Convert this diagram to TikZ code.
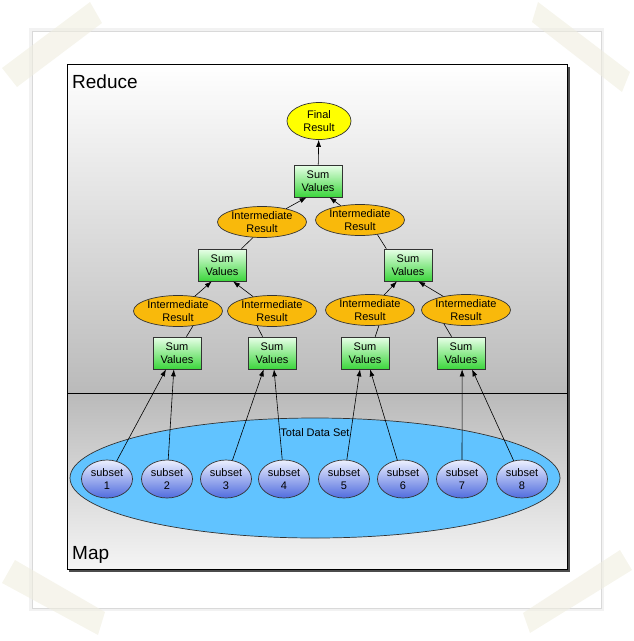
\documentclass[tikz,border=0pt]{standalone}
\usepackage{fontspec}
\setmainfont{Liberation Sans}
\usepackage{tikz}
\usetikzlibrary{shapes.geometric,arrows.meta,positioning}
\usepackage{xcolor}

\definecolor{tapecol}{RGB}{240,238,224}
\definecolor{orangefill}{RGB}{249,185,11}
\definecolor{finalfill}{RGB}{255,255,0}
\definecolor{greenlight}{RGB}{232,255,232}
\definecolor{greendark}{RGB}{60,214,60}
\definecolor{bluelight}{RGB}{236,240,255}
\definecolor{bluedark}{RGB}{80,108,222}
\definecolor{setblue}{RGB}{97,195,255}
\definecolor{panelgray}{RGB}{186,186,186}

\begin{document}
\begin{tikzpicture}[x=1pt, y=-1pt,
    txt/.style={font=\fontsize{11}{13}\selectfont, align=center, inner sep=0pt},
    sumbox/.style={txt, draw=black!80, line width=0.7pt, rectangle, top color=greenlight, bottom color=greendark, minimum width=48pt, minimum height=32pt},
    interm/.style={txt, draw=black!80, line width=0.7pt, ellipse, fill=orangefill, minimum width=89pt, minimum height=31pt},
    result/.style={txt, draw=black!80, line width=0.7pt, ellipse, fill=finalfill, minimum width=64pt, minimum height=37pt},
    subset/.style={txt, draw=black!80, line width=0.7pt, ellipse, top color=bluelight, bottom color=bluedark, minimum width=51pt, minimum height=38pt},
    flow/.style={-{Latex[length=7pt,width=5pt]}, line width=0.6pt},
    link/.style={line width=0.6pt},
    tape/.style={fill=tapecol, fill opacity=0.6},
    phase/.style={font=\fontsize{19}{22}\selectfont, anchor=base west, inner sep=0pt}]

    \useasboundingbox (0,0) rectangle (633,641);

    % paper and frame
    \fill[gray!10] (29,28) rectangle (604,611);
    \draw[gray!30, line width=1pt, fill=white] (32,31) rectangle (601,608);
    \fill[black!70] (69,67) rectangle (570,572);
    \shade[top color=white, bottom color=panelgray] (67,64) rectangle (567,393);
    \shade[top color=panelgray, bottom color=white!96!black] (67,393) rectangle (567,569);
    \draw[line width=0.8pt] (67,64) rectangle (567,569);
    \draw[line width=0.6pt] (67,393) -- (567,393);

    \node[phase] (reduce) at (72,88) {Reduce};
    \node[phase] (map) at (72,559) {Map};

    % data set
    \node[draw=black!80, line width=0.7pt, ellipse, fill=setblue, minimum width=490pt, minimum height=120pt] (total) at (315,478) {};
    \node[txt, below=11pt of total.north] (totallabel) {Total Data Set};

    \node[subset] (sub1) at (107,479) {subset\\1};
    \node[subset] (sub2) at (167,479) {subset\\2};
    \node[subset] (sub3) at (226,479) {subset\\3};
    \node[subset] (sub4) at (284,479) {subset\\4};
    \node[subset] (sub5) at (344,479) {subset\\5};
    \node[subset] (sub6) at (403,479) {subset\\6};
    \node[subset] (sub7) at (462,479) {subset\\7};
    \node[subset] (sub8) at (522,479) {subset\\8};

    % reduce tree
    \node[sumbox] (sum1) at (177,353) {Sum\\Values};
    \node[sumbox] (sum2) at (272,353) {Sum\\Values};
    \node[sumbox] (sum3) at (365,353) {Sum\\Values};
    \node[sumbox] (sum4) at (461,353) {Sum\\Values};

    \node[interm] (int1) at (178,311) {Intermediate\\Result};
    \node[interm] (int2) at (272,311) {Intermediate\\Result};
    \node[interm] (int3) at (370,310) {Intermediate\\Result};
    \node[interm] (int4) at (466,310) {Intermediate\\Result};

    \node[sumbox] (sumL) at (222,265) {Sum\\Values};
    \node[sumbox] (sumR) at (408,265) {Sum\\Values};

    \node[interm] (midL) at (262,222) {Intermediate\\Result};
    \node[interm] (midR) at (360,220) {Intermediate\\Result};

    \node[sumbox] (sum0) at (318,181) {Sum\\Values};
    \node[result] (final) at (319,121) {Final\\Result};

    \draw[flow] (sub1) -- (sum1.236);
    \draw[flow] (sub2) -- (sum1.259);
    \draw[flow] (sub3) -- (sum2.243);
    \draw[flow] (sub4) -- (sum2.277);
    \draw[flow] (sub5) -- (sum3.253);
    \draw[flow] (sub6) -- (sum3.287);
    \draw[flow] (sub7) -- (sum4.274);
    \draw[flow] (sub8) -- (sum4.304);

    \draw[link] (sum1.60) -- (int1.315);
    \draw[link] (sum2.120) -- (int2.225);
    \draw[link] (sum3.58) -- (int3.300);
    \draw[link] (sum4.120) -- (int4.212);

    \draw[flow] (int1) -- (sumL.238);
    \draw[flow] (int2) -- (sumL.304);
    \draw[flow] (int3) -- (sumR.236);
    \draw[flow] (int4) -- (sumR.302);

    \draw[link] (sumL.40) -- (midL.240);
    \draw[link] (sumR.143) -- (midR.320);

    \draw[flow] (midL) -- (sum0.235);
    \draw[flow] (midR) -- (sum0.305);
    \draw[flow] (sum0) -- (final);

    % tape strips
    \fill[tape] (2,68) -- (90,2) -- (102,23) -- (17,87) -- cycle;
    \fill[tape] (538,2) -- (630,72) -- (622,92) -- (532,22) -- cycle;
    \fill[tape] (15,560) -- (105,612) -- (98,635) -- (2,583) -- cycle;
    \fill[tape] (620,550) -- (632,570) -- (530,633) -- (523,613) -- cycle;
\end{tikzpicture}
\end{document}
